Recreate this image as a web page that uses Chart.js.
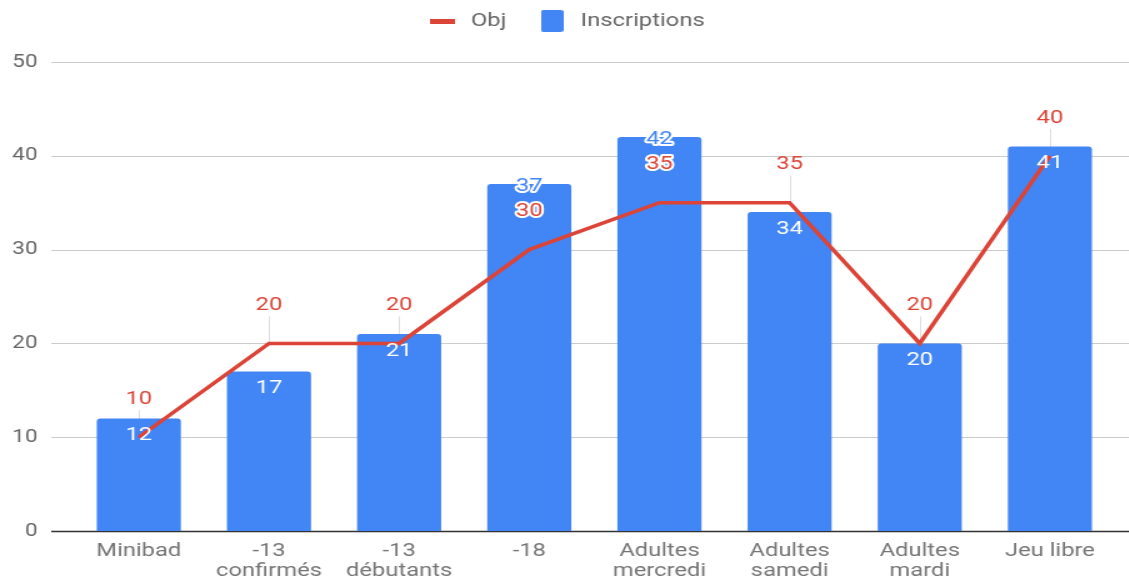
<!DOCTYPE html>
<html><head><meta charset="utf-8">
<script src="https://cdn.jsdelivr.net/npm/chart.js@4/dist/chart.umd.min.js"></script>
<style>
html,body{margin:0;padding:0;background:#fff;overflow:hidden;}
#wrap{width:903px;height:583px;position:relative;transform:scaleX(1.25);transform-origin:0 0;}
</style>
</head><body><div id="wrap"><canvas id="c"></canvas></div>
<script>
const categories = ['Minibad', '-13\nconfirmés', '-13\ndébutants', '-18', 'Adultes\nmercredi', 'Adultes\nsamedi', 'Adultes\nmardi', 'Jeu libre'];
const objValues = [10, 20, 20, 30, 35, 35, 20, 40];
const inscriptionValues = [12, 17, 21, 37, 42, 34, 20, 41];
const yTicks = [0, 10, 20, 30, 40, 50];

const RED = '#db4437', BLUE = '#4285f4';
const FONT = 'Roboto, "Liberation Sans", sans-serif';

function makeSwatch(w, h, color, r) {
  const c = document.createElement('canvas'); c.width = w; c.height = h;
  const x = c.getContext('2d'); x.fillStyle = color;
  x.beginPath(); if (x.roundRect) x.roundRect(0, 0, w, h, r); else x.rect(0, 0, w, h); x.fill();
  return c;
}
const lineSwatch = makeSwatch(20, 5, RED, 0);
const boxSwatch = makeSwatch(18, 22, BLUE, 2);

const gridPlugin = {
  id: 'fullGrid',
  beforeDatasetsDraw(chart) {
    const ctx = chart.ctx, y = chart.scales.y;
    ctx.save();
    yTicks.forEach(v => {
      const py = Math.round(y.getPixelForValue(v)) + 0.5;
      ctx.strokeStyle = v === 0 ? '#333333' : '#cccccc';
      ctx.lineWidth = v === 0 ? 1.5 : 1;
      ctx.beginPath(); ctx.moveTo(41, py); ctx.lineTo(chart.width, py); ctx.stroke();
    });
    const lm = chart.getDatasetMeta(1);
    ctx.strokeStyle = '#dddddd'; ctx.lineWidth = 1;
    lm.data.forEach(p => {
      const x = Math.round(p.x) + 0.5;
      ctx.beginPath(); ctx.moveTo(x, p.y - 27); ctx.lineTo(x, p.y); ctx.stroke();
    });
    ctx.restore();
  }
};

const labelPlugin = {
  id: 'valueLabels',
  afterDatasetsDraw(chart) {
    const ctx = chart.ctx;
    const bm = chart.getDatasetMeta(0), lm = chart.getDatasetMeta(1);
    ctx.save();
    ctx.font = '19px ' + FONT;
    ctx.textAlign = 'center'; ctx.textBaseline = 'middle';
    ctx.lineJoin = 'round';
    bm.data.forEach((bar, i) => {
      const pt = lm.data[i];
      const lineY = pt.y - 38;
      let barY = bar.y + 17;
      let outlined = false;
      if (Math.abs(barY - lineY) < 24) { barY = lineY - 25; outlined = true; }
      if (outlined) {
        ctx.strokeStyle = '#ffffff'; ctx.lineWidth = 4;
        ctx.strokeText(String(inscriptionValues[i]), bar.x, barY);
        ctx.fillStyle = BLUE;
      } else ctx.fillStyle = '#ffffff';
      ctx.fillText(String(inscriptionValues[i]), bar.x, barY);
      if (lineY > bar.y - 10) {
        ctx.strokeStyle = '#ffffff'; ctx.lineWidth = 4;
        ctx.strokeText(String(objValues[i]), pt.x, lineY);
      }
      ctx.fillStyle = RED;
      ctx.fillText(String(objValues[i]), pt.x, lineY);
    });
    ctx.restore();
  }
};

const legendFit = {
  id: 'legendFit',
  beforeInit(chart) {
    const lg = chart.legend;
    const origFit = lg.fit;
    lg.fit = function () { origFit.bind(lg)(); this.height = 62; };
    const origDraw = lg.draw;
    lg.draw = function () {
      const ctx = chart.ctx; ctx.save(); ctx.translate(6, -11.5);
      origDraw.apply(lg, arguments); ctx.restore();
    };
  }
};

new Chart(document.getElementById('c'), {
  data: {
    labels: categories.map(s => s.split('\n')),
    datasets: [
      { type: 'bar', label: 'Inscriptions', data: inscriptionValues, backgroundColor: BLUE,
        borderRadius: 3, borderSkipped: 'bottom', categoryPercentage: 1, barPercentage: 0.646, order: 2 },
      { type: 'line', label: 'Obj', data: objValues, borderColor: RED, backgroundColor: RED,
        borderWidth: 3.5, pointRadius: 0, tension: 0, order: 1 }
    ]
  },
  options: {
    responsive: true, maintainAspectRatio: false, animation: false,
    layout: { padding: { left: 0, right: 11, top: 0, bottom: 0 } },
    plugins: {
      tooltip: { enabled: false },
      legend: {
        position: 'top', reverse: true,
        labels: {
          usePointStyle: true, pointStyleWidth: 27, boxHeight: 22, boxWidth: 27, padding: 23,
          color: '#666666', font: { family: FONT, size: 19 },
          generateLabels(chart) {
            return chart.data.datasets.map((d, i) => ({
              text: d.label, datasetIndex: i, hidden: false,
              pointStyle: d.type === 'line' ? lineSwatch : boxSwatch,
              fillStyle: d.backgroundColor, strokeStyle: d.backgroundColor, lineWidth: 0, fontColor: '#666666'
            }));
          }
        }
      }
    },
    scales: {
      x: {
        offset: true,
        afterFit(s) { s.height = 52; },
        grid: { display: false, drawTicks: false },
        border: { display: false },
        ticks: { color: '#757575', font: { family: FONT, size: 19, lineHeight: 1.05 }, padding: 10, maxRotation: 0, autoSkip: false }
      },
      y: {
        min: 0, max: 50,
        afterFit(s) { s.width = 59; },
        afterBuildTicks(s) { s.ticks = yTicks.map(v => ({ value: v })); },
        grid: { display: false, drawTicks: false },
        border: { display: false },
        ticks: { color: '#666666', font: { family: FONT, size: 18 }, padding: 29 }
      }
    }
  },
  plugins: [gridPlugin, labelPlugin, legendFit]
});
</script></body></html>
